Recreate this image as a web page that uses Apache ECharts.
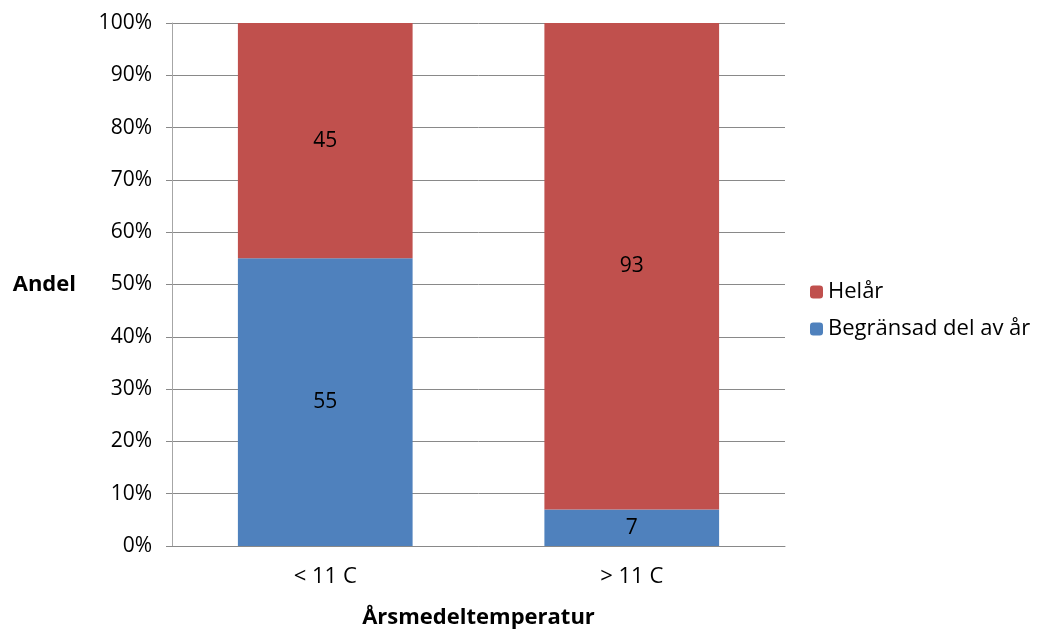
<!DOCTYPE html>
<html>
<head>
<meta charset="utf-8">
<script src="https://cdn.jsdelivr.net/npm/echarts@6/dist/echarts.min.js"></script>
<style>
  html, body { margin: 0; padding: 0; background: #fff; }
  #chart { width: 1047px; height: 641px; }
</style>
</head>
<body>
<div id="chart"></div>
<script>
const categories = ['< 11 C', '> 11 C'];
const begransad = [55, 7];
const helar = [45, 93];
const yTicks = [0, 10, 20, 30, 40, 50, 60, 70, 80, 90, 100];

const font = '"Open Sans", "Liberation Sans", sans-serif';
const chart = echarts.init(document.getElementById('chart'));

const option = {
    backgroundColor: '#fff',
    textStyle: { fontFamily: font },
    animation: false,
    grid: { left: 172, right: 262, top: 23, bottom: 95 },
    legend: {
        orient: 'vertical',
        left: 805,
        top: 276,
        itemWidth: 13,
        itemHeight: 13,
        itemGap: 15,
        data: ['Helår', 'Begränsad del av år'],
        textStyle: { fontSize: 22, color: '#000', fontFamily: font }
    },
    xAxis: {
        type: 'category',
        data: categories,
        name: 'Årsmedeltemperatur',
        nameLocation: 'middle',
        nameGap: 61,
        nameTextStyle: { fontSize: 22, fontWeight: 'bold', color: '#000', fontFamily: font },
        axisLine: { lineStyle: { color: '#898989' } },
        axisTick: { show: false },
        axisLabel: { fontSize: 22, color: '#000', margin: 20, fontFamily: font }
    },
    yAxis: {
        type: 'value',
        min: yTicks[0],
        max: yTicks[yTicks.length - 1],
        interval: 10,
        name: 'Andel',
        nameLocation: 'middle',
        nameRotate: 0,
        nameGap: 96,
        nameTextStyle: { fontSize: 22, fontWeight: 'bold', color: '#000', fontFamily: font },
        axisLine: { show: true, lineStyle: { color: '#a6a6a6' } },
        axisTick: { show: true, length: 6, lineStyle: { color: '#898989' } },
        splitLine: { lineStyle: { color: '#898989' } },
        axisLabel: { fontSize: 21, color: '#000', margin: 20, fontFamily: font, formatter: v => v + '%' }
    },
    series: [
        {
            name: 'Begränsad del av år',
            type: 'bar',
            stack: 'a',
            barWidth: '57%',
            data: begransad,
            itemStyle: { color: '#4F81BD' },
            label: { show: true, position: 'inside', fontSize: 21, color: '#000', fontFamily: font }
        },
        {
            name: 'Helår',
            type: 'bar',
            stack: 'a',
            barWidth: '57%',
            data: helar,
            itemStyle: { color: '#C0504D' },
            label: { show: true, position: 'inside', fontSize: 21, color: '#000', fontFamily: font }
        }
    ]
};

chart.setOption(option);
</script>
</body>
</html>
